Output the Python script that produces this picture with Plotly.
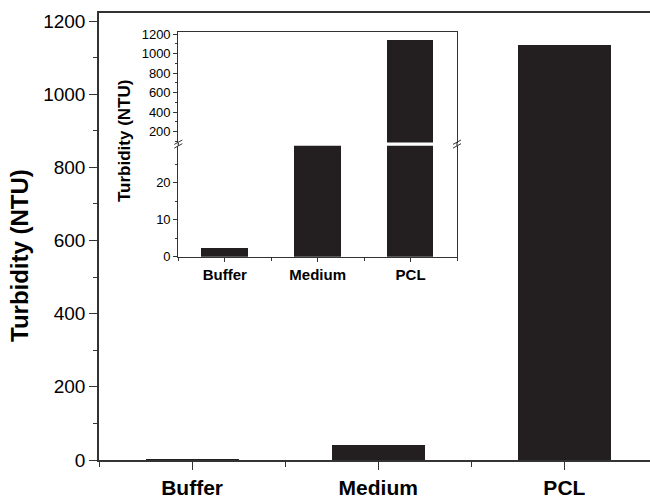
import plotly.graph_objects as go

categories = ["Buffer", "Medium", "PCL"]
turbidity = [2.5, 42, 1135]
main_yticks = [0, 200, 400, 600, 800, 1000, 1200]
main_yminor = [100, 300, 500, 700, 900, 1100]
inset_low_ticks = [0, 10, 20]
inset_low_minor = [5, 15, 25]
inset_high_ticks = [200, 400, 600, 800, 1000, 1200]
inset_high_minor = [100, 300, 500, 700, 900, 1100]

W, H = 650, 504
ML, MR, MT, MB = 99, 0, 13, 44
PW = W - ML - MR
PH = H - MT - MB


def px_x(px):
    return (px - ML) / PW


def px_y(py):
    return (H - MB - py) / PH


BAR = "#231f20"
AX = "#333333"
FONT = "Liberation Sans, Arial, sans-serif"
xpos = list(range(len(categories)))

fig = go.Figure()
for xa, ya in [("x", "y"), ("x2", "y2"), ("x3", "y3")]:
    fig.add_trace(go.Bar(x=xpos, y=turbidity, width=0.5,
                         marker=dict(color=BAR, line=dict(width=0)),
                         xaxis=xa, yaxis=ya, showlegend=False, hoverinfo="skip"))

ix0, ix1 = px_x(178.3), px_x(457)
low_dom = [px_y(256.7), px_y(145.7)]
high_dom = [px_y(142.5), px_y(32.3)]

common = dict(showgrid=False, zeroline=False, showline=True, linecolor=AX,
              tickcolor=AX, ticks="outside")

fig.update_layout(
    width=W, height=H,
    margin=dict(l=ML, r=MR, t=MT, b=MB),
    paper_bgcolor="white", plot_bgcolor="white",
    font=dict(family=FONT, color="black"),
    bargap=0,
    xaxis=dict(domain=[0, 1], range=[-0.5, 2.46], tickvals=xpos, ticktext=categories,
               ticklen=8, tickwidth=1, linewidth=1.5, mirror=True,
               tickfont=dict(size=21, weight="bold"),
               minor=dict(tickmode="array", tickvals=[-0.5, 0.5, 1.5], ticks="outside",
                          ticklen=5, tickcolor=AX),
               **common),
    yaxis=dict(domain=[0, 1], range=[0, 1222], tickvals=main_yticks, ticklen=8,
               linewidth=1.5, tickfont=dict(size=19),
               minor=dict(tickmode="array", tickvals=main_yminor, ticks="outside",
                          ticklen=4, tickcolor=AX),
               **common),
    xaxis2=dict(domain=[ix0, ix1], anchor="y2", range=[-0.5, 2.5], tickvals=xpos,
                ticktext=categories, ticklen=4, linewidth=1.2,
                tickfont=dict(size=15, weight="bold"),
                minor=dict(tickmode="array", tickvals=[-0.5, 0.5, 1.5, 2.5],
                           ticks="outside", ticklen=3, tickcolor=AX),
                **common),
    yaxis2=dict(domain=low_dom, anchor="x2", range=[0, 30], tickvals=inset_low_ticks,
                ticklen=4, linewidth=1.2, mirror=True, tickfont=dict(size=13),
                minor=dict(tickmode="array", tickvals=inset_low_minor, ticks="outside",
                           ticklen=2.5, tickcolor=AX),
                **common),
    xaxis3=dict(domain=[ix0, ix1], anchor="y3", range=[-0.5, 2.5], side="top",
                showticklabels=False, showgrid=False, zeroline=False, showline=True,
                linecolor=AX, linewidth=1.2, ticks=""),
    yaxis3=dict(domain=high_dom, anchor="x3", range=[89, 1220], tickvals=inset_high_ticks,
                ticklen=4, linewidth=1.2, mirror=True, tickfont=dict(size=13),
                minor=dict(tickmode="array", tickvals=inset_high_minor, ticks="outside",
                           ticklen=2.5, tickcolor=AX),
                **common),
)

# axis break decorations
shapes = []
for xp in [178.3, 457]:
    shapes.append(dict(type="line", xref="paper", yref="paper",
                       x0=px_x(xp), x1=px_x(xp), y0=px_y(145.7), y1=px_y(142.5),
                       line=dict(color=AX, width=1.2)))
    for yc in [142.2, 145.9]:
        shapes.append(dict(type="line", xref="paper", yref="paper",
                           x0=px_x(xp - 4), x1=px_x(xp + 4),
                           y0=px_y(yc + 2.2), y1=px_y(yc - 2.2),
                           line=dict(color=AX, width=1)))
fig.update_layout(shapes=shapes)

fig.add_annotation(text="<b>Turbidity (NTU)</b>", textangle=-90, xref="paper", yref="paper",
                   x=px_x(19), y=px_y(256), xanchor="center", yanchor="middle",
                   showarrow=False, font=dict(size=24, family=FONT, color="black"))
fig.add_annotation(text="<b>Turbidity (NTU)</b>", textangle=-90, xref="paper", yref="paper",
                   x=px_x(124), y=px_y(141), xanchor="center", yanchor="middle",
                   showarrow=False, font=dict(size=17, family=FONT, color="black"))

fig.write_html("out.html")
